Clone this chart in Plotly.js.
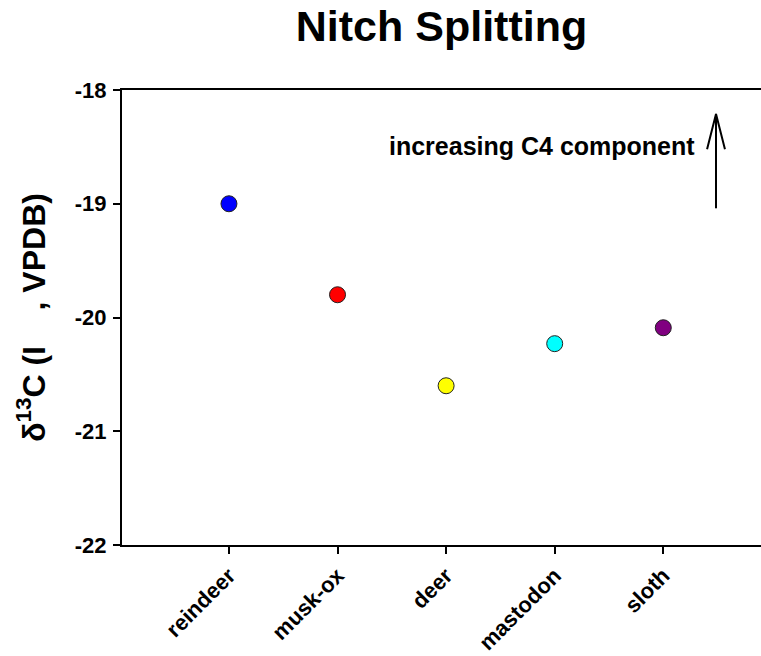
<!DOCTYPE html>
<html>
<head>
<meta charset="utf-8">
<script src="https://cdn.plot.ly/plotly-3.0.1.min.js"></script>
<style>html,body{margin:0;padding:0;background:#fff;}#chart{width:761px;height:656px;}</style>
</head>
<body>
<div id="chart"></div>
<script>
// Data
const animals = ["reindeer", "musk-ox", "deer", "mastodon", "sloth"];
const d13C = [-19.0, -19.8, -20.6, -20.23, -20.09];
const markerColors = ["#0000ff", "#ff0000", "#ffff00", "#00ffff", "#800080"];
const yTickVals = [-22, -21, -20, -19, -18];
const yTickText = ["-22", "-21", "-20", "-19", "-18"];

const FONT = "Liberation Sans, Arial, Helvetica, sans-serif";

const trace = {
  type: "scatter",
  mode: "markers",
  x: animals,
  y: d13C,
  marker: {size: 16, color: markerColors, line: {color: "#222", width: 1}},
  cliponaxis: false,
  hoverinfo: "x+y"
};

const layout = {
  width: 761, height: 656,
  margin: {l: 122, r: 0, t: 90, b: 111},
  paper_bgcolor: "#fff", plot_bgcolor: "#fff",
  showlegend: false,
  font: {family: FONT, color: "#000", weight: "bold"},
  title: {
    text: "Nitch Splitting",
    font: {family: FONT, size: 43, color: "#000", weight: "bold"},
    x: 0.5, xref: "paper", xanchor: "center",
    y: 1, yref: "container", yanchor: "top", pad: {t: 11}
  },
  xaxis: {
    type: "category",
    range: [-0.985, 4.9],
    showgrid: false, zeroline: false,
    showline: true, linecolor: "#000", linewidth: 2, mirror: true,
    ticks: "outside", ticklen: 7, tickwidth: 2, tickcolor: "#000",
    tickangle: -45,
    tickfont: {family: FONT, size: 22, color: "#000", weight: "bold"}
  },
  yaxis: {
    range: [-22, -18],
    tickvals: yTickVals, ticktext: yTickText,
    showgrid: false, zeroline: false,
    showline: true, linecolor: "#000", linewidth: 2,
    ticks: "outside", ticklen: 7, tickwidth: 2, tickcolor: "#000",
    ticklabelstandoff: 2,
    tickfont: {family: FONT, size: 22, color: "#000", weight: "bold"},
    title: {
      text: "δ<sup>13</sup>C (I\u00a0\u00a0\u00a0\u00a0, VPDB)",
      font: {family: FONT, size: 32, color: "#000", weight: "bold"},
      standoff: 20
    }
  },
  annotations: [{
    text: "increasing C4 component",
    xref: "paper", yref: "y",
    x: 0.9, y: -18.49, xanchor: "right", yanchor: "middle",
    showarrow: false,
    font: {family: FONT, size: 25, color: "#000", weight: "bold"}
  }],
  shapes: [
    {type: "line", xref: "paper", yref: "y", x0: 0.9296, x1: 0.9296, y0: -19.04, y1: -18.21,
     line: {color: "#000", width: 2}},
    {type: "path", xref: "paper", yref: "y",
     path: "M 0.9156,-18.52 L 0.9296,-18.21 L 0.9436,-18.52",
     line: {color: "#000", width: 2}}
  ]
};

Plotly.newPlot("chart", [trace], layout, {displayModeBar: false, staticPlot: true});
</script>
</body>
</html>
